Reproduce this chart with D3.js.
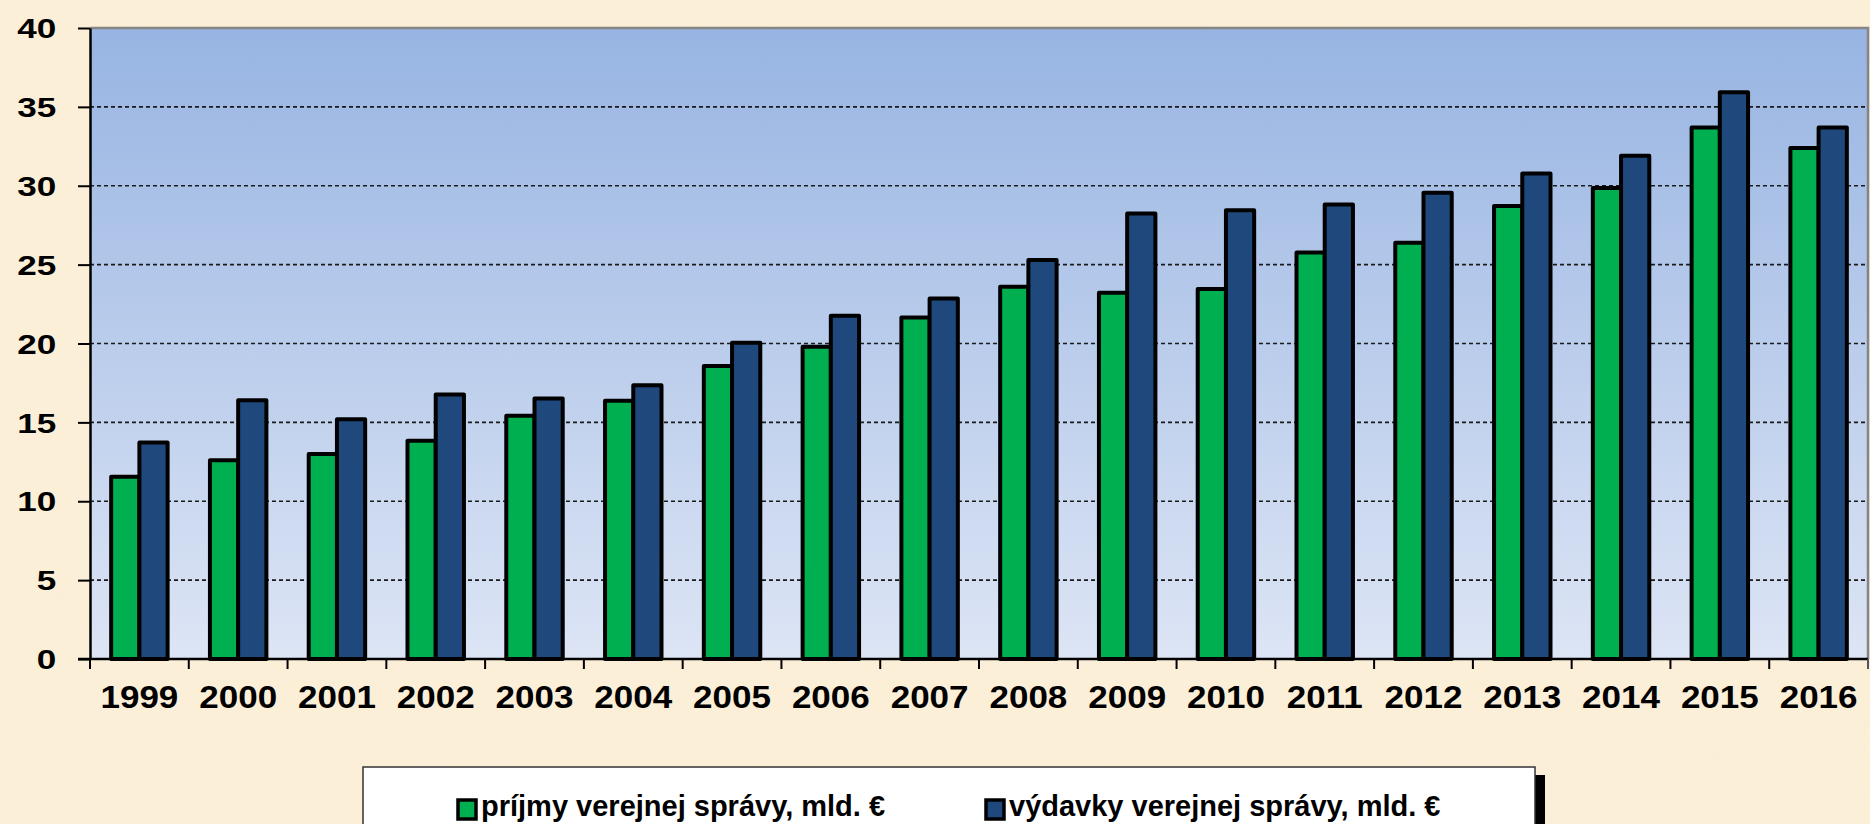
<!DOCTYPE html>
<html lang="sk">
<head>
<meta charset="UTF-8" />
<title>Príjmy a výdavky verejnej správy</title>
<script src="https://d3js.org/d3.v7.min.js"></script>
<style>
  html, body { margin: 0; padding: 0; overflow: hidden; background: #fcefd8; }
  svg { display: block; }
  text { font-family: "Liberation Sans", Arial, sans-serif; font-weight: bold; fill: #000; }
</style>
</head>
<body>
<svg id="chart"></svg>
<script>
// data (mld. €)
const years = ["1999", "2000", "2001", "2002", "2003", "2004", "2005", "2006", "2007",
               "2008", "2009", "2010", "2011", "2012", "2013", "2014", "2015", "2016"];
const prijmy = [11.55, 12.6, 13.0, 13.83, 15.42, 16.37, 18.57, 19.79, 21.65,
                23.6, 23.21, 23.45, 25.77, 26.38, 28.71, 29.85, 33.7, 32.4];
const vydavky = [13.73, 16.4, 15.2, 16.77, 16.52, 17.35, 20.05, 21.76, 22.86,
                 25.29, 28.24, 28.45, 28.81, 29.55, 30.78, 31.9, 35.93, 33.7];
const yTicks = [0, 5, 10, 15, 20, 25, 30, 35, 40];
const seriesNames = ["príjmy verejnej správy, mld. €", "výdavky verejnej správy, mld. €"];
const seriesColors = ["#00b050", "#1f497d"];

const W = 1870, H = 824;
const plot = { left: 90, right: 1868, top: 28, bottom: 659 };

const svg = d3.select("#chart").attr("width", W).attr("height", H);
const defs = svg.append("defs");

// parchment texture
const tex = defs.append("filter").attr("id", "paper")
  .attr("x", 0).attr("y", 0).attr("width", "100%").attr("height", "100%");
tex.append("feTurbulence").attr("type", "fractalNoise")
  .attr("baseFrequency", "0.005 0.009").attr("numOctaves", 4).attr("seed", 7);
tex.append("feColorMatrix").attr("type", "matrix")
  .attr("values", "0 0 0 0 0.95  0 0 0 0 0.86  0 0 0 0 0.70  0.9 0 0 0 -0.3");

const grad = defs.append("linearGradient").attr("id", "plotbg")
  .attr("x1", 0).attr("y1", 0).attr("x2", 0).attr("y2", 1);
grad.append("stop").attr("offset", "0%").attr("stop-color", "#97b4e2");
grad.append("stop").attr("offset", "100%").attr("stop-color", "#dde5f5");

svg.append("rect").attr("width", W).attr("height", H).attr("fill", "#fcefd8");
svg.append("rect").attr("width", W).attr("height", H).attr("filter", "url(#paper)").attr("opacity", 0.5);

// scales
const x0 = d3.scaleBand().domain(years).range([plot.left, plot.right]).padding(0);
const x1 = d3.scaleBand().domain([0, 1]).range([0, x0.bandwidth()])
  .paddingInner(0).paddingOuter(0.75);
const y = d3.scaleLinear().domain([0, 40]).range([plot.bottom, plot.top]);

// plot area
svg.append("rect")
  .attr("x", plot.left).attr("y", plot.top)
  .attr("width", plot.right - plot.left).attr("height", plot.bottom - plot.top)
  .attr("fill", "url(#plotbg)");
svg.append("path")
  .attr("d", `M${plot.left},${plot.top}H${plot.right}V${plot.bottom}`)
  .attr("fill", "none").attr("stroke", "#858585").attr("stroke-width", 2.5);

// dashed gridlines
svg.append("g").selectAll("line")
  .data(yTicks.filter(d => d > 0 && d < 40))
  .join("line")
  .attr("x1", plot.left).attr("x2", plot.right)
  .attr("y1", d => y(d)).attr("y2", d => y(d))
  .attr("stroke", "#1a1a1a").attr("stroke-width", 1.6)
  .attr("stroke-dasharray", "4,3");

// bars
const groups = svg.append("g").selectAll("g")
  .data(years.map((yr, i) => ({ yr, vals: [prijmy[i], vydavky[i]] })))
  .join("g")
  .attr("transform", d => `translate(${x0(d.yr)},0)`);

groups.selectAll("rect")
  .data(d => d.vals.map((v, k) => ({ k, v })))
  .join("rect")
  .attr("x", d => x1(d.k))
  .attr("width", x1.bandwidth())
  .attr("y", d => y(d.v))
  .attr("height", d => y(0) - y(d.v))
  .attr("fill", d => seriesColors[d.k])
  .attr("stroke", "#000").attr("stroke-width", 4)
  .attr("stroke-linejoin", "round");

// y axis
const yAxis = svg.append("g")
  .attr("transform", `translate(${plot.left},0)`)
  .call(d3.axisLeft(y).tickValues(yTicks).tickSize(12).tickSizeOuter(0));
yAxis.select(".domain").attr("stroke", "#000").attr("stroke-width", 2.5);
yAxis.selectAll(".tick line").attr("stroke", "#000").attr("stroke-width", 2);
yAxis.selectAll(".tick text")
  .attr("x", -26).attr("dy", "0.36em")
  .attr("transform", "scale(1.3,1)")
  .style("font-size", "27px");

// x axis (labels at band centres, ticks at band edges)
const xAxis = svg.append("g")
  .attr("transform", `translate(0,${plot.bottom})`)
  .call(d3.axisBottom(x0).tickSize(0).tickPadding(27).tickSizeOuter(0));
xAxis.select(".domain").remove();
xAxis.selectAll(".tick text")
  .attr("transform", "scale(1.13,1)")
  .attr("x", 0)
  .style("font-size", "31px");

svg.append("line")
  .attr("x1", plot.left - 12).attr("x2", plot.right)
  .attr("y1", plot.bottom).attr("y2", plot.bottom)
  .attr("stroke", "#000").attr("stroke-width", 2.5);
svg.append("g").selectAll("line")
  .data(years.map(d => x0(d)).concat([plot.right]))
  .join("line")
  .attr("x1", d => d).attr("x2", d => d)
  .attr("y1", plot.bottom).attr("y2", plot.bottom + 10)
  .attr("stroke", d => d === plot.right ? "#555" : "#000").attr("stroke-width", 2);

// legend
const lg = { x: 363, y: 767, w: 1172, h: 120 };
svg.append("rect")
  .attr("x", lg.x + 10).attr("y", lg.y + 8)
  .attr("width", lg.w).attr("height", lg.h).attr("fill", "#000");
svg.append("rect")
  .attr("x", lg.x).attr("y", lg.y)
  .attr("width", lg.w).attr("height", lg.h)
  .attr("fill", "#fff").attr("stroke", "#333").attr("stroke-width", 1.5);

const legendX = [458, 986];
const items = svg.append("g").selectAll("g")
  .data(seriesNames)
  .join("g")
  .attr("transform", (d, i) => `translate(${legendX[i]},800)`);
items.append("rect")
  .attr("width", 18).attr("height", 19)
  .attr("fill", (d, i) => seriesColors[i])
  .attr("stroke", "#000").attr("stroke-width", 3.5);
items.append("text")
  .attr("x", 23).attr("y", 16)
  .style("font-size", "29px")
  .text(d => d);
</script>
</body>
</html>
